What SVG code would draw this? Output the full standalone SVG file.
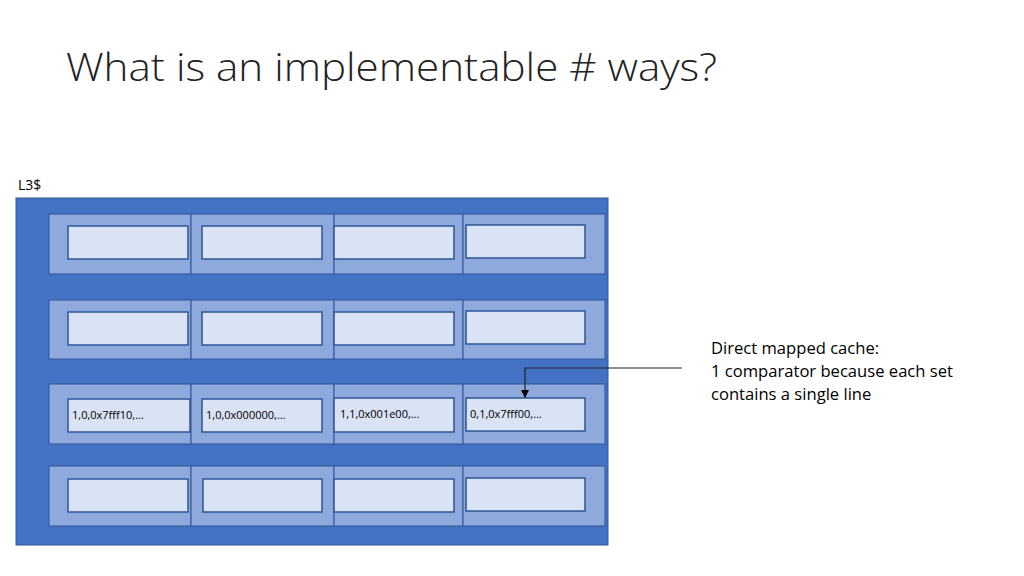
<svg xmlns="http://www.w3.org/2000/svg" width="1024" height="576" viewBox="0 0 1024 576">
<style>
.cell{fill:#8EA9DB;stroke:#2F5597;stroke-width:1}
.line{fill:#DAE3F3;stroke:#2F5597;stroke-width:1.5}
.lbl{font-family:"Open Sans","Liberation Sans",sans-serif;font-size:11px;fill:#000}
.note{font-family:"Open Sans","Liberation Sans",sans-serif;font-size:16.6px;fill:#000}
</style>
<defs>
<marker id="ah" markerWidth="8" markerHeight="8" refX="7" refY="4" orient="auto" markerUnits="userSpaceOnUse">
<path d="M0,0 L8,4 L0,8 Z" fill="#000"/>
</marker>
</defs>
<rect width="1024" height="576" fill="#fff"/>
<text x="66" y="81" font-family="'Open Sans','Liberation Sans',sans-serif" font-size="39" font-weight="300" fill="#222" textLength="651" lengthAdjust="spacingAndGlyphs">What is an implementable # ways?</text>
<text x="18" y="190" font-family="'Open Sans','Liberation Sans',sans-serif" font-size="14" fill="#000">L3$</text>
<g id="cache">
<rect x="16" y="198" width="592" height="347" fill="#4472C4" stroke="#2F5597" stroke-width="1"/>
</g>
<g id="set0">
<rect class="cell" x="49" y="214" width="142" height="60"/>
<rect class="cell" x="191" y="214" width="143" height="60"/>
<rect class="cell" x="334" y="214" width="129" height="60"/>
<rect class="cell" x="463" y="214" width="142" height="60"/>
<rect class="line" x="68" y="226" width="120" height="33"/>
<rect class="line" x="202" y="226" width="120" height="33"/>
<rect class="line" x="334" y="226" width="120" height="33"/>
<rect class="line" x="466" y="225" width="119" height="33"/>
</g>
<g id="set1">
<rect class="cell" x="49" y="300" width="142" height="59"/>
<rect class="cell" x="191" y="300" width="143" height="59"/>
<rect class="cell" x="334" y="300" width="129" height="59"/>
<rect class="cell" x="463" y="300" width="142" height="59"/>
<rect class="line" x="68" y="312" width="120" height="33"/>
<rect class="line" x="202" y="312" width="120" height="33"/>
<rect class="line" x="334" y="312" width="120" height="33"/>
<rect class="line" x="466" y="311" width="119" height="33"/>
</g>
<g id="set2">
<rect class="cell" x="49" y="384" width="142" height="60"/>
<rect class="cell" x="191" y="384" width="143" height="60"/>
<rect class="cell" x="334" y="384" width="129" height="60"/>
<rect class="cell" x="463" y="384" width="142" height="60"/>
<rect class="line" x="68" y="399" width="122" height="33"/>
<rect class="line" x="202" y="399" width="120" height="33"/>
<rect class="line" x="334" y="398" width="120" height="34"/>
<rect class="line" x="466" y="398" width="119" height="33"/>
<text class="lbl" x="72" y="419">1,0,0x7fff10,…</text>
<text class="lbl" x="206" y="419">1,0,0x000000,…</text>
<text class="lbl" x="340" y="418">1,1,0x001e00,…</text>
<text class="lbl" x="470" y="418">0,1,0x7fff00,…</text>
</g>
<g id="set3">
<rect class="cell" x="49" y="466" width="142" height="60"/>
<rect class="cell" x="191" y="466" width="143" height="60"/>
<rect class="cell" x="334" y="466" width="129" height="60"/>
<rect class="cell" x="463" y="466" width="142" height="60"/>
<rect class="line" x="68" y="479" width="120" height="33"/>
<rect class="line" x="203" y="479" width="119" height="33"/>
<rect class="line" x="334" y="479" width="120" height="33"/>
<rect class="line" x="466" y="478" width="119" height="33"/>
</g>
<g id="note">
<text class="note" x="711" y="354">Direct mapped cache:</text>
<text class="note" x="711" y="377">1 comparator because each set</text>
<text class="note" x="711" y="400">contains a single line</text>
</g>
<g id="connectors">
<polyline points="682,368 525,368 525,397" fill="none" stroke="#222" stroke-width="1.2" marker-end="url(#ah)"/>
</g>
</svg>
